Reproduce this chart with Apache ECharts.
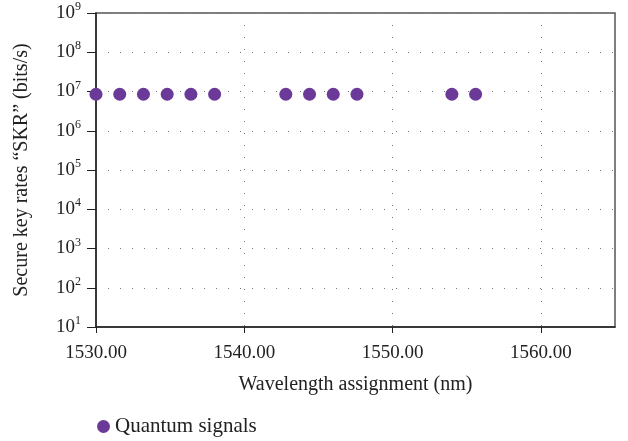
<!DOCTYPE html>
<html>
<head>
<meta charset="utf-8">
<script src="https://cdn.jsdelivr.net/npm/echarts@6/dist/echarts.min.js"></script>
<style>
  html, body { margin: 0; padding: 0; background: #fff; }
  #chart { width: 628px; height: 441px; }
</style>
</head>
<body>
<div id="chart"></div>
<script>
// wavelengths (nm) of the quantum channels
const wavelengths = [1530.0, 1531.6, 1533.2, 1534.8, 1536.4, 1538.0,
                     1542.8, 1544.4, 1546.0, 1547.6, 1554.0, 1555.6]
// secure key rate (bits/s) per channel
const skr = [8.5e6, 8.5e6, 8.5e6, 8.5e6, 8.5e6, 8.5e6,
             8.5e6, 8.5e6, 8.5e6, 8.5e6, 8.5e6, 8.5e6]
const seriesName = 'Quantum signals'

const serif = '"Liberation Serif", "DejaVu Serif", serif'
const purple = '#6b3a98'

const chart = echarts.init(document.getElementById('chart'))
chart.setOption({
  animation: false,
  textStyle: { fontFamily: serif },
  grid: {
    left: 96,
    right: 13,
    top: 13,
    bottom: 114,
    show: true,
    borderColor: '#555',
    borderWidth: 1.5
  },
  legend: {
    left: 92,
    top: 411,
    icon: 'circle',
    itemWidth: 13,
    itemHeight: 13,
    itemGap: 12,
    textStyle: { fontFamily: serif, fontSize: 21, color: '#222' },
    data: [seriesName]
  },
  xAxis: {
    type: 'value',
    min: 1530,
    max: 1565,
    interval: 10,
    name: 'Wavelength assignment (nm)',
    nameLocation: 'middle',
    nameGap: 48,
    nameTextStyle: { fontFamily: serif, fontSize: 20, color: '#222' },
    axisLine: { show: true, lineStyle: { color: '#222', width: 1.5 } },
    axisTick: {
      show: true,
      inside: false,
      length: 6,
      lineStyle: { color: '#222' },
      customValues: [1530, 1540, 1550, 1560]
    },
    axisLabel: {
      fontFamily: serif,
      fontSize: 19,
      color: '#222',
      margin: 17,
      formatter: v => (v % 10 === 0 ? v.toFixed(2) : '')
    },
    splitLine: {
      show: true,
      lineStyle: { color: '#777', width: 1, type: [1, 11] }
    }
  },
  yAxis: {
    type: 'log',
    logBase: 10,
    min: 10,
    max: 1e9,
    name: 'Secure key rates \u201cSKR\u201d (bits/s)',
    nameLocation: 'middle',
    nameGap: 64,
    nameTextStyle: { fontFamily: serif, fontSize: 20, color: '#222' },
    axisLine: { show: true, lineStyle: { color: '#222', width: 1.5 } },
    axisTick: { show: true, inside: false, length: 9, lineStyle: { color: '#222' } },
    axisLabel: {
      margin: 15,
      formatter: v => '{b|10}{s|' + Math.round(Math.log10(v)) + '}',
      rich: {
        b: { fontFamily: serif, fontSize: 19, color: '#222' },
        s: { fontFamily: serif, fontSize: 12, color: '#222', padding: [0, 0, 12, 0] }
      }
    },
    splitLine: {
      show: true,
      lineStyle: { color: '#777', width: 1, type: [1, 11] }
    }
  },
  series: [{
    name: seriesName,
    type: 'scatter',
    symbol: 'circle',
    symbolSize: 13,
    itemStyle: { color: purple, opacity: 1 },
    data: wavelengths.map((w, i) => [w, skr[i]])
  }]
})
</script>
</body>
</html>
